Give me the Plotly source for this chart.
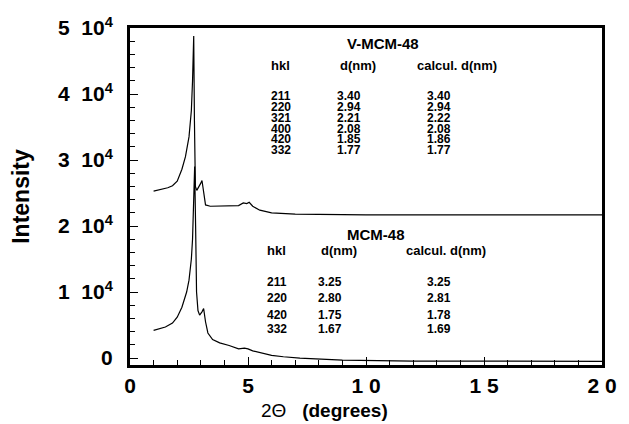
import plotly.graph_objects as go

# ---- data (2-theta in degrees, intensity in counts) ----
two_theta_v = [1.0, 1.3, 1.6, 1.8, 2.0, 2.2, 2.35, 2.5, 2.6, 2.65, 2.70, 2.73, 2.77, 2.83, 2.9, 3.0, 3.05, 3.12, 3.2,
               3.4, 3.8, 4.1, 4.3, 4.6, 4.8, 4.95, 5.05, 5.2, 5.5, 6.0, 7.0, 10.0, 14.0, 20.0]
intensity_v = [25300, 25500, 25800, 26100, 26800, 28600, 30500, 33500, 37500, 42000, 48800, 36000, 26000, 25400,
               25800, 26500, 26900, 25000, 23200, 23000, 23000, 23100, 23000, 23100, 23500, 23400, 23600, 23000,
               22400, 22000, 21800, 21700, 21700, 21700]

two_theta_m = [1.0, 1.5, 1.8, 2.0, 2.2, 2.4, 2.5, 2.6, 2.65, 2.70, 2.74, 2.78, 2.82, 2.88, 2.95, 3.05, 3.12, 3.2,
               3.3, 3.5, 3.8, 4.2, 4.6, 4.85, 5.0, 5.2, 5.6, 6.0, 6.5, 7.2, 9.0, 12.0, 20.0]
intensity_m = [4200, 4700, 5300, 6200, 7700, 10000, 11800, 15000, 18000, 24000, 29000, 20000, 10000, 7200, 6500,
               7000, 7500, 5500, 3800, 2800, 2300, 1900, 1400, 1500, 1400, 1100, 700, 400, 200, 0, -300, -450, -500]

y_ticks = [0, 10000, 20000, 30000, 40000, 50000]
y_tick_text = ["0", "1&nbsp;&nbsp;10<sup>4</sup>", "2&nbsp;&nbsp;10<sup>4</sup>", "3&nbsp;&nbsp;10<sup>4</sup>",
               "4&nbsp;&nbsp;10<sup>4</sup>", "5&nbsp;&nbsp;10<sup>4</sup>"]
x_ticks = [0, 5, 10, 15, 20]
x_tick_text = ["0", "5", "1 0", "1 5", "2 0"]

v_hkl = ["211", "220", "321", "400", "420", "332"]
v_d = ["3.40", "2.94", "2.21", "2.08", "1.85", "1.77"]
v_calc = ["3.40", "2.94", "2.22", "2.08", "1.86", "1.77"]

m_hkl = ["211", "220", "420", "332"]
m_d = ["3.25", "2.80", "1.75", "1.67"]
m_calc = ["3.25", "2.81", "1.78", "1.69"]

FONT = "Liberation Sans"

fig = go.Figure()
fig.add_trace(go.Scatter(x=two_theta_v, y=intensity_v, mode="lines",
                         line=dict(color="black", width=1.2), showlegend=False))
fig.add_trace(go.Scatter(x=two_theta_m, y=intensity_m, mode="lines",
                         line=dict(color="black", width=1.2), showlegend=False))

ann = []


def txt(x, y, s, size=12, xanchor="left"):
    ann.append(dict(x=x, y=y, xref="x", yref="y", text=s, showarrow=False,
                    xanchor=xanchor, yanchor="middle",
                    font=dict(family=FONT, size=size, color="black", weight="bold")))


# V-MCM-48 block
txt(10.7, 47600, "V-MCM-48", size=15, xanchor="center")
txt(6.37, 44300, "hkl", size=13, xanchor="center")
txt(9.64, 44300, "d(nm)", size=13, xanchor="center")
txt(13.84, 44300, "calcul. d(nm)", size=13, xanchor="center")
v_rows = [39700, 38050, 36400, 34750, 33150, 31550]
for i in range(len(v_hkl)):
    txt(5.87, v_rows[i], v_hkl[i])
    txt(8.68, v_rows[i], v_d[i])
    txt(12.5, v_rows[i], v_calc[i])

# MCM-48 block
txt(10.44, 18700, "MCM-48", size=15, xanchor="center")
txt(6.2, 16300, "hkl", size=13, xanchor="center")
txt(8.85, 16300, "d(nm)", size=13, xanchor="center")
txt(13.4, 16300, "calcul. d(nm)", size=13, xanchor="center")
m_rows = [11500, 9100, 6600, 4400]
for i in range(len(m_hkl)):
    txt(5.74, m_rows[i], m_hkl[i])
    txt(7.88, m_rows[i], m_d[i])
    txt(12.5, m_rows[i], m_calc[i])

# x-axis title
ann.append(dict(x=0.413, y=-0.135, xref="paper", yref="paper", showarrow=False,
                xanchor="center", yanchor="middle",
                text="2\u0398&nbsp;&nbsp;&nbsp;<b>(degrees)</b>",
                font=dict(family=FONT, size=19, color="black")))

fig.update_layout(
    width=629, height=424,
    margin=dict(l=130, r=22, t=28, b=59),
    paper_bgcolor="white", plot_bgcolor="white",
    annotations=ann,
    xaxis=dict(range=[0, 20], tickvals=x_ticks, ticktext=x_tick_text,
               showline=True, linecolor="black", linewidth=3, mirror=True,
               ticks="inside", ticklen=8, tickwidth=1.2, tickcolor="black",
               minor=dict(dtick=1, ticks="inside", ticklen=5, tickwidth=1, tickcolor="black"),
               showgrid=False, zeroline=False,
               tickfont=dict(family=FONT, size=21, color="black", weight="bold")),
    yaxis=dict(range=[-1050, 50000], tickvals=y_ticks, ticktext=y_tick_text,
               showline=True, linecolor="black", linewidth=3, mirror=True,
               ticks="inside", ticklen=8, tickwidth=1.2, tickcolor="black",
               minor=dict(dtick=2000, tick0=0, ticks="inside", ticklen=5, tickwidth=1, tickcolor="black"),
               showgrid=False, zeroline=False, ticklabelstandoff=10,
               tickfont=dict(family=FONT, size=21, color="black", weight="bold"),
               title=dict(text="Intensity", standoff=22,
                          font=dict(family=FONT, size=23, color="black", weight="bold"))),
)

fig.write_html("out.html")
